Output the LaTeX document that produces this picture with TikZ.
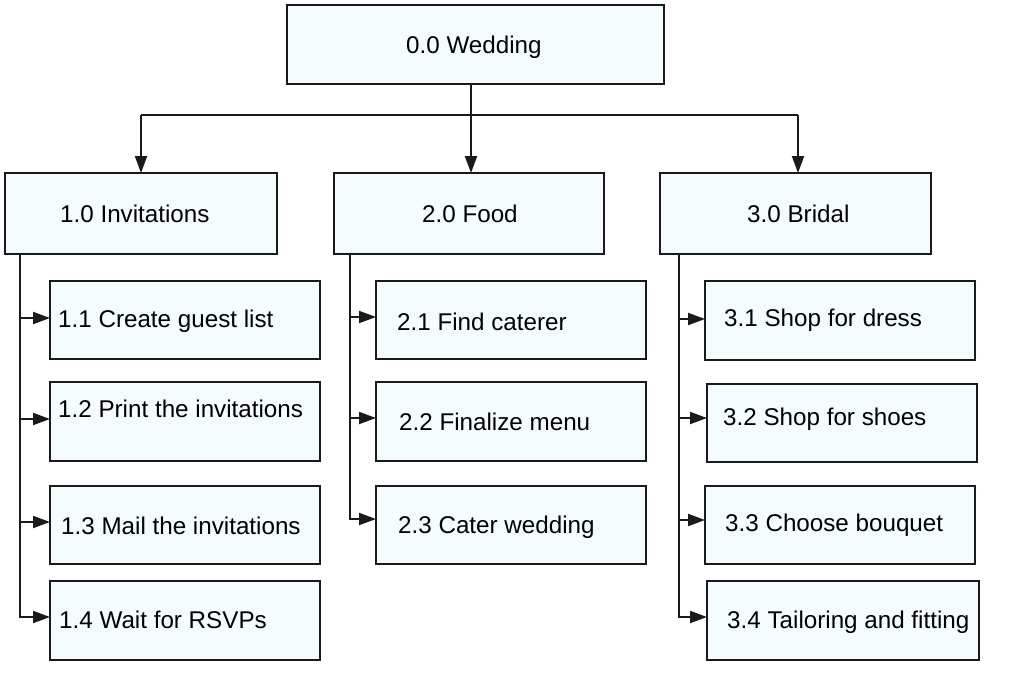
\documentclass[tikz,border=0pt]{standalone}
\usepackage{fontspec}
\setmainfont{Liberation Sans}
\usetikzlibrary{arrows.meta}
\definecolor{boxfill}{HTML}{F4FCFE}
\definecolor{edge}{HTML}{1A1A1A}
\begin{document}
\begin{tikzpicture}[x=1pt,y=1pt,yscale=-1,
  box/.style={draw=edge, line width=2pt, fill=boxfill, rectangle, inner sep=0pt, outer sep=0pt, anchor=north west},
  txt/.style={inner sep=0pt, anchor=base west, font=\fontsize{24.2}{28}\selectfont, text=black},
  arr/.style={draw=edge, line width=2pt, -{Triangle[length=17pt,width=12pt]}},
  ln/.style={draw=edge, line width=2pt}]
\fill[white] (0,0) rectangle (1024,699);
\useasboundingbox (0,0) rectangle (1024,699);
% boxes
\node[box, minimum width=377pt, minimum height=79pt] (n0) at (287,5) {};
\node[box, minimum width=272pt, minimum height=81pt] (n1) at (5,173) {};
\node[box, minimum width=270pt, minimum height=81pt] (n2) at (334,173) {};
\node[box, minimum width=271pt, minimum height=81pt] (n3) at (660,173) {};
\node[box, minimum width=270pt, minimum height=78pt] (n11) at (50,281) {};
\node[box, minimum width=270pt, minimum height=79pt] (n12) at (50,382) {};
\node[box, minimum width=270pt, minimum height=78pt] (n13) at (50,486) {};
\node[box, minimum width=270pt, minimum height=79pt] (n14) at (50,581) {};
\node[box, minimum width=270pt, minimum height=78pt] (n21) at (376,281) {};
\node[box, minimum width=270pt, minimum height=79pt] (n22) at (376,382) {};
\node[box, minimum width=270pt, minimum height=78pt] (n23) at (376,486) {};
\node[box, minimum width=270pt, minimum height=79pt] (n31) at (705,281) {};
\node[box, minimum width=270pt, minimum height=78pt] (n32) at (707,384) {};
\node[box, minimum width=270pt, minimum height=78pt] (n33) at (705,486) {};
\node[box, minimum width=272pt, minimum height=79pt] (n34) at (707,581) {};
% texts
\node[txt] (t0) at (406,53) {0.0 Wedding};
\node[txt] (t1) at (60,222.5) {1.0 Invitations};
\node[txt] (t2) at (422,222.5) {2.0 Food};
\node[txt] (t3) at (747,222.5) {3.0 Bridal};
\node[txt] (t11) at (58,327) {1.1 Create guest list};
\node[txt] (t12) at (58,417) {1.2 Print the invitations};
\node[txt] (t13) at (61,534) {1.3 Mail the invitations};
\node[txt] (t14) at (59,628) {1.4 Wait for RSVPs};
\node[txt] (t21) at (397,330) {2.1 Find caterer};
\node[txt] (t22) at (399,430) {2.2 Finalize menu};
\node[txt] (t23) at (398,533) {2.3 Cater wedding};
\node[txt] (t31) at (724,326) {3.1 Shop for dress};
\node[txt] (t32) at (723,425) {3.2 Shop for shoes};
\node[txt] (t33) at (725,531) {3.3 Choose bouquet};
\node[txt] (t34) at (727,628) {3.4 Tailoring and fitting};
% top level connectors
\coordinate (b0) at (471,115);
\coordinate (bL) at (141,115);
\coordinate (bR) at (798,115);
\draw[ln] (bL) -- (bR);
\draw[arr] (n0.south -| b0) -- (n2.north -| b0);
\draw[arr] (bL) -- (n1.north -| bL);
\draw[arr] (bR) -- (n3.north -| bR);
% invitations
\coordinate (a11) at (20,318);
\coordinate (a12) at (20,419);
\coordinate (a13) at (20,522);
\coordinate (a14) at (20,617);
\draw[arr] (n1.south -| a11) |- (n14.west |- a14);
\draw[arr] (a11) -- (n11.west |- a11);
\draw[arr] (a12) -- (n12.west |- a12);
\draw[arr] (a13) -- (n13.west |- a13);
% food
\coordinate (c21) at (350,317);
\coordinate (c22) at (350,418);
\coordinate (c23) at (350,519);
\draw[arr] (n2.south -| c21) |- (n23.west |- c23);
\draw[arr] (c21) -- (n21.west |- c21);
\draw[arr] (c22) -- (n22.west |- c22);
% bridal
\coordinate (d31) at (679,319);
\coordinate (d32) at (679,418);
\coordinate (d33) at (679,520);
\coordinate (d34) at (679,617);
\draw[arr] (n3.south -| d31) |- (n34.west |- d34);
\draw[arr] (d31) -- (n31.west |- d31);
\draw[arr] (d32) -- (n32.west |- d32);
\draw[arr] (d33) -- (n33.west |- d33);
\end{tikzpicture}
\end{document}
